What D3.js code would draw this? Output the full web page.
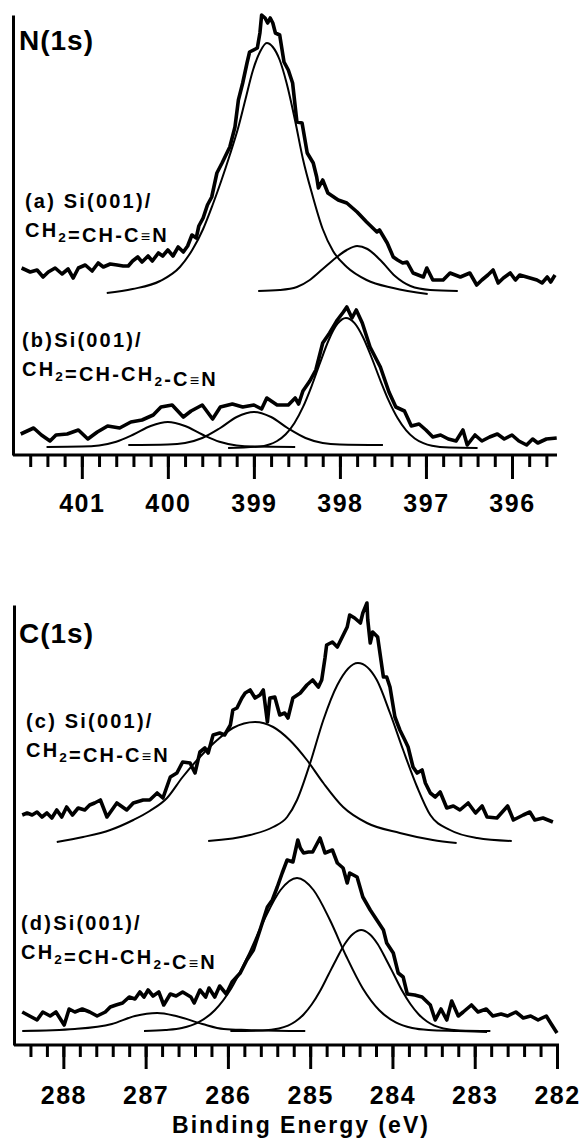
<!DOCTYPE html>
<html>
<head>
<meta charset="utf-8">
<script src="https://cdnjs.cloudflare.com/ajax/libs/d3/7.8.5/d3.min.js"></script>
<style>
  body { margin: 0; background: #fff; }
  svg { display: block; background: #fff; }
  text { font-family: "Liberation Sans", Arial, sans-serif; font-weight: bold; fill: #000; }
</style>
</head>
<body>
<div id="chart"></div>
<script>
// ---- data: [binding energy (eV), intensity (a.u.)] ----

// N(1s) tick labels
const nTickLabels = [401, 400, 399, 398, 397, 396];
// C(1s) tick labels
const cTickLabels = [288, 287, 286, 285, 284, 283, 282];

// (a) Si(001)/CH2=CH-C≡N, N(1s) raw
const rawA = [[401.70,187],[401.60,183],[401.52,185],[401.45,178],[401.39,183],[401.31,187],[401.23,181],[401.16,186],[401.10,177],[401.04,187],[400.96,190],[400.88,184],[400.81,192],[400.75,188],[400.67,191],[400.59,190],[400.52,189],[400.46,189],[400.41,194],[400.35,198],[400.30,193],[400.23,199],[400.18,194],[400.11,202],[400.06,199],[400.00,205],[399.94,199],[399.88,208],[399.82,203],[399.77,209],[399.72,220],[399.67,217],[399.64,229],[399.59,237],[399.54,250],[399.49,258],[399.43,282],[399.37,292],[399.28,308],[399.22,328],[399.18,355],[399.13,372],[399.08,392],[399.05,403],[398.96,407],[398.93,422],[398.91,440],[398.87,437],[398.84,432],[398.81,437],[398.78,432],[398.75,422],[398.70,420],[398.65,393],[398.60,385],[398.55,372],[398.50,333],[398.44,332],[398.38,302],[398.31,292],[398.27,278],[398.25,267],[398.20,275],[398.14,262],[398.02,255],[397.92,252],[397.80,243],[397.69,233],[397.57,223],[397.54,225],[397.45,212],[397.38,198],[397.33,195],[397.27,192],[397.22,193],[397.15,182],[397.03,178],[396.99,187],[396.92,175],[396.80,175],[396.72,182],[396.60,178],[396.49,182],[396.41,170],[396.35,175],[396.28,180],[396.22,185],[396.16,172],[396.10,177],[396.02,182],[395.96,175],[395.91,180],[395.83,178],[395.71,175],[395.65,172],[395.59,178],[395.55,173],[395.50,180]];
const fitA1 = [[400.71,162],[400.41,166],[400.09,174],[399.86,188],[399.71,206],[399.59,226],[399.48,250],[399.38,274],[399.28,300],[399.18,328],[399.10,355],[399.01,385],[398.93,403],[398.85,412],[398.78,408],[398.70,395],[398.62,372],[398.52,334],[398.43,296],[398.32,260],[398.20,226],[398.08,204],[397.92,188],[397.69,175],[397.38,167],[396.98,161]];
const fitA2 = [[398.95,164],[398.70,165],[398.50,168],[398.35,175],[398.20,186],[398.05,197],[397.92,205],[397.80,209],[397.68,206],[397.52,194],[397.36,179],[397.18,169],[396.95,165],[396.63,164]];

// (b) Si(001)/CH2=CH-CH2-C≡N, N(1s) raw
const rawB = [[401.71,21],[401.56,27],[401.47,20],[401.37,14],[401.30,20],[401.17,21],[401.04,25],[400.93,16],[400.82,23],[400.70,29],[400.56,27],[400.43,33],[400.30,35],[400.17,40],[400.08,48],[399.95,50],[399.82,38],[399.73,44],[399.60,50],[399.48,36],[399.39,48],[399.25,51],[399.13,48],[399.00,50],[398.91,46],[398.85,57],[398.73,50],[398.60,50],[398.52,57],[398.48,51],[398.43,64],[398.35,74],[398.28,85],[398.20,112],[398.12,122],[398.03,135],[397.96,143],[397.92,148],[397.86,137],[397.81,145],[397.74,132],[397.65,108],[397.53,88],[397.43,63],[397.35,48],[397.25,44],[397.17,29],[397.08,31],[397.00,25],[396.92,18],[396.83,20],[396.74,16],[396.65,14],[396.57,25],[396.52,10],[396.43,20],[396.35,14],[396.26,18],[396.17,21],[396.09,16],[396.00,20],[395.92,14],[395.83,10],[395.76,16],[395.70,12],[395.60,16],[395.48,17]];
const fitB1 = [[401.41,8],[401.00,8.4],[400.80,9.6],[400.60,13.3],[400.40,20.5],[400.20,29],[400.00,33],[399.80,29],[399.60,20.5],[399.40,13.3],[399.20,9.6],[399.00,8.4],[398.52,8]];
const fitB2 = [[400.46,10],[400.00,10.5],[399.80,12],[399.60,17],[399.40,26.5],[399.20,38],[399.00,43],[398.80,38],[398.60,26.5],[398.40,17],[398.20,12],[398.00,10.5],[397.50,10]];
const fitB3 = [[399.30,7],[398.93,8.5],[398.83,10.3],[398.73,14],[398.63,20.7],[398.53,31.7],[398.43,47.8],[398.33,68.7],[398.23,92.4],[398.13,115],[398.03,131],[397.93,137],[397.83,131.8],[397.73,117.5],[397.63,97],[397.53,74.6],[397.43,53.8],[397.33,36.9],[397.23,24.6],[397.13,16.5],[397.03,11.8],[396.93,9.2],[396.73,7.4],[396.40,7]];

// (c) Si(001)/CH2=CH-C≡N, C(1s) raw
const rawC = [[288.50,230],[288.44,232],[288.38,230],[288.32,233],[288.26,228],[288.20,232],[288.14,227],[288.08,235],[288.02,228],[287.96,238],[287.89,230],[287.82,237],[287.74,235],[287.68,240],[287.62,242],[287.55,245],[287.47,228],[287.35,242],[287.23,235],[287.15,242],[287.03,245],[286.95,245],[286.86,252],[286.79,247],[286.70,268],[286.62,272],[286.55,283],[286.46,282],[286.40,272],[286.34,293],[286.28,297],[286.24,292],[286.18,310],[286.10,312],[286.04,310],[285.97,320],[285.94,335],[285.89,337],[285.83,347],[285.79,352],[285.73,355],[285.67,347],[285.61,350],[285.57,355],[285.52,323],[285.49,347],[285.43,348],[285.37,330],[285.31,332],[285.27,327],[285.21,347],[285.12,352],[285.04,360],[284.97,365],[284.90,358],[284.86,365],[284.82,387],[284.80,400],[284.73,403],[284.67,398],[284.61,408],[284.55,418],[284.52,430],[284.46,427],[284.39,422],[284.36,432],[284.31,442],[284.30,425],[284.27,402],[284.24,413],[284.18,408],[284.11,368],[284.07,368],[284.03,358],[283.97,328],[283.91,315],[283.85,305],[283.81,298],[283.75,278],[283.70,272],[283.64,275],[283.60,262],[283.54,252],[283.48,248],[283.42,253],[283.34,237],[283.26,239],[283.18,235],[283.08,242],[282.99,232],[282.91,239],[282.85,228],[282.73,227],[282.60,239],[282.53,225],[282.41,230],[282.33,233],[282.27,225],[282.17,227],[282.05,223]];
const fitC1 = [[288.08,203],[287.76,208],[287.43,215],[287.15,225],[286.95,234],[286.74,247],[286.55,268],[286.34,288],[286.13,305],[285.94,317],[285.67,323],[285.45,318],[285.25,305],[285.04,285],[284.84,262],[284.60,238],[284.31,222],[283.91,212],[283.51,205],[283.22,202]];
const fitC2 = [[286.24,204],[285.73,210],[285.45,218],[285.28,228],[285.16,245],[285.00,282],[284.84,325],[284.67,360],[284.42,382],[284.19,365],[284.03,332],[283.87,295],[283.70,258],[283.54,230],[283.30,215],[282.97,207],[282.55,204]];

// (d) Si(001)/CH2=CH-CH2-C≡N, C(1s) raw
const rawD = [[288.50,33],[288.41,29],[288.32,25],[288.25,33],[288.16,29],[288.09,33],[287.99,20],[287.93,36],[287.86,33],[287.77,36],[287.68,33],[287.59,29],[287.49,33],[287.43,38],[287.36,40],[287.28,42],[287.20,48],[287.13,46],[287.07,53],[287.02,48],[286.97,55],[286.91,49],[286.84,53],[286.78,40],[286.70,51],[286.63,49],[286.55,53],[286.45,48],[286.41,42],[286.34,55],[286.27,48],[286.23,57],[286.16,48],[286.10,59],[286.02,51],[285.95,63],[285.85,72],[285.77,85],[285.69,95],[285.61,115],[285.52,138],[285.46,145],[285.40,158],[285.34,172],[285.28,185],[285.21,183],[285.15,205],[285.12,197],[285.08,192],[285.02,193],[284.97,193],[284.88,207],[284.82,192],[284.73,195],[284.67,182],[284.60,177],[284.55,162],[284.52,172],[284.43,168],[284.36,148],[284.27,135],[284.19,125],[284.11,115],[284.07,102],[283.99,92],[283.93,72],[283.87,68],[283.82,51],[283.73,50],[283.64,48],[283.54,40],[283.48,25],[283.41,36],[283.34,25],[283.28,44],[283.20,29],[283.14,33],[283.04,40],[282.96,33],[282.86,36],[282.78,29],[282.68,31],[282.60,29],[282.50,33],[282.41,27],[282.32,29],[282.23,25],[282.13,29],[282.07,21],[282.00,12]];
const fitD1 = [[288.50,14],[287.86,16],[287.41,21],[287.13,29],[286.86,32],[286.63,29],[286.31,21],[286.05,16],[285.77,15],[285.06,14]];
const fitD2 = [[287.02,14],[286.76,15],[286.56,17],[286.36,22.6],[286.16,34.7],[285.96,56.5],[285.76,88.5],[285.56,125],[285.36,155],[285.16,167],[284.96,155],[284.76,125],[284.56,88.5],[284.36,56.5],[284.16,34.7],[283.96,22.6],[283.76,17],[283.56,15],[283.20,14],[282.85,13]];
const fitD3 = [[285.97,14],[285.58,14.5],[285.38,16.5],[285.18,23.5],[285.08,30.5],[284.98,40.7],[284.88,54],[284.78,70],[284.68,86],[284.58,101],[284.48,111],[284.38,115],[284.28,111],[284.18,101],[284.08,86],[283.98,70],[283.88,54],[283.78,40.7],[283.68,30.5],[283.58,23.5],[283.38,16.5],[283.18,14.5],[282.81,14]];

// sample labels ("_2" = subscript)
const nLabels = [["(a) Si(001)/", "CH_2=CH-C≡N"], ["(b)Si(001)/", "CH_2=CH-CH_2-C≡N"]];
const cLabels = [["(c) Si(001)/", "CH_2=CH-C≡N"], ["(d)Si(001)/", "CH_2=CH-CH_2-C≡N"]];

// ---- layout ----
const W = 583, H = 1140;

const panels = [
  { title: "N(1s)", domain: [401.8, 395.5], xr: [13, 555], top: 15, bottom: 455,
    ticks: nTickLabels, raws: [rawA, rawB], fits: [fitA1, fitA2, fitB1, fitB2, fitB3],
    labels: nLabels, labelPos: [[25, 208], [22, 347]], titlePos: [19, 50], tickPad: 15 },
  { title: "C(1s)", domain: [288.6, 282], xr: [14, 557], top: 605, bottom: 1045,
    ticks: cTickLabels, raws: [rawC, rawD], fits: [fitC1, fitC2, fitD1, fitD2, fitD3],
    labels: cLabels, labelPos: [[26, 728], [21, 930]], titlePos: [19, 643], tickPad: 17 }
];

const svg = d3.select("#chart").append("svg")
  .attr("width", W).attr("height", H);

function addRichText(g, str, x, y, size) {
  const t = g.append("text").attr("x", x).attr("y", y)
    .style("font-size", size + "px").style("letter-spacing", "2.2px");
  str.split(/(_\d|≡)/).filter(s => s.length).forEach(part => {
    if (part[0] === "_") {
      t.append("tspan").attr("dy", 5).style("font-size", (size * 0.68) + "px").text(part.slice(1));
      t.append("tspan").attr("dy", -5).text("");
    } else if (part === "≡") {
      t.append("tspan").style("font-weight", "normal").style("font-size", (size * 0.8) + "px").text(part);
    } else {
      t.append("tspan").text(part);
    }
  });
}

panels.forEach(p => {
  const x = d3.scaleLinear().domain(p.domain).range(p.xr);
  const y = d3.scaleLinear().domain([0, 440]).range([p.bottom, p.top]);
  const g = svg.append("g");

  // fitted components
  const fitLine = d3.line().x(d => x(d[0])).y(d => y(d[1])).curve(d3.curveMonotoneX);
  g.selectAll("path.fit").data(p.fits).join("path")
    .attr("class", "fit")
    .attr("d", fitLine)
    .attr("fill", "none").attr("stroke", "#000").attr("stroke-width", 2);

  // raw spectra
  const rawLine = d3.line().x(d => x(d[0])).y(d => y(d[1]));
  g.selectAll("path.raw").data(p.raws).join("path")
    .attr("class", "raw")
    .attr("d", rawLine)
    .attr("fill", "none").attr("stroke", "#000").attr("stroke-width", 3.6)
    .attr("stroke-linejoin", "round");

  // y axis (plain line)
  const yAx = g.append("g").attr("transform", `translate(${p.xr[0]},0)`)
    .call(d3.axisLeft(y).tickValues([]).tickSizeOuter(0));
  yAx.select(".domain").attr("stroke-width", 3);

  // minor ticks
  const minor = d3.range(Math.round(p.domain[1] * 5), Math.round(p.domain[0] * 5) + 1)
    .map(v => v / 5).filter(v => v <= p.domain[0] - 0.1 && v >= p.domain[1]);
  const minAx = g.append("g").attr("transform", `translate(0,${p.bottom})`)
    .call(d3.axisBottom(x).tickValues(minor).tickSize(12).tickSizeOuter(0).tickFormat(""));
  minAx.select(".domain").attr("stroke-width", 3).attr("d", `M${p.xr[0]},0H${p.xr[1] + 2}`);
  minAx.selectAll(".tick line").attr("stroke-width", 3);

  // major ticks + labels
  const majAx = g.append("g").attr("transform", `translate(0,${p.bottom})`)
    .call(d3.axisBottom(x).tickValues(p.ticks).tickSize(24).tickSizeOuter(0)
      .tickPadding(p.tickPad).tickFormat(d3.format("d")));
  majAx.select(".domain").remove();
  majAx.selectAll(".tick line").attr("stroke-width", 3);
  majAx.selectAll(".tick text")
    .style("font-family", '"Liberation Sans", Arial, sans-serif')
    .style("font-weight", "bold").style("font-size", "25px")
    .style("letter-spacing", "1.5px").attr("fill", "#000");

  // panel title
  g.append("text").attr("x", p.titlePos[0]).attr("y", p.titlePos[1])
    .style("font-size", "28px").style("letter-spacing", "1px").text(p.title);

  // sample labels
  p.labels.forEach((lines, i) => {
    const [lx, ly] = p.labelPos[i];
    addRichText(g, lines[0], lx, ly, 20);
    addRichText(g, lines[1], lx, ly + 29, 20);
  });
});

svg.append("text").attr("x", 301).attr("y", 1133).attr("text-anchor", "middle")
  .style("font-size", "23px").style("letter-spacing", "2px")
  .text("Binding Energy (eV)");
</script>
</body>
</html>
